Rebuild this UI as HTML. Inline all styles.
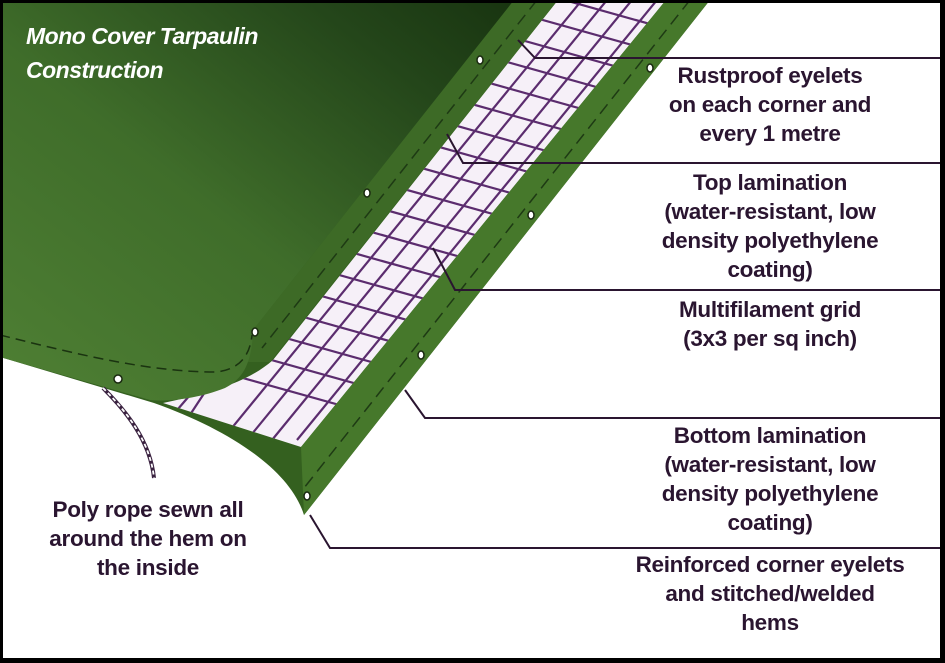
<!DOCTYPE html>
<html><head><meta charset="utf-8"><style>
html,body{margin:0;padding:0;background:#000;}
#c{position:relative;width:945px;height:663px;overflow:hidden;background:#000;}
#in{position:absolute;left:3px;top:3px;width:937px;height:655px;background:#fff;overflow:hidden;}
svg{position:absolute;left:-3px;top:-3px;}
.t{position:absolute;font-family:"Liberation Sans",sans-serif;font-weight:bold;color:#2a1530;font-size:22.5px;line-height:29px;text-align:center;letter-spacing:-0.3px;}
.h{position:absolute;font-family:"Liberation Sans",sans-serif;font-weight:bold;font-style:italic;color:#fff;font-size:23px;line-height:34px;left:26px;top:22px;letter-spacing:-0.5px;}
</style></head><body><div id="c"><div id="in">
<svg width="945" height="663" viewBox="0 0 945 663">
<defs>
<linearGradient id="tg" x1="0" y1="1" x2="1" y2="0">
<stop offset="0" stop-color="#4f8034"/><stop offset="0.45" stop-color="#3f6d2a"/><stop offset="0.8" stop-color="#24461a"/><stop offset="1" stop-color="#183410"/>
</linearGradient>
<clipPath id="gc"><path d="M558,0 L666,0 L301,447 L163,403 C200,395 245,385 273,360 Z"/></clipPath>
</defs>
<path d="M0,0 L710,0 L304,515 C290,470 230,430 154,403 L0,357 Z" fill="#34601f"/>
<path d="M558,0 L666,0 L301,447 L163,403 C200,395 245,385 273,360 Z" fill="#f6f0f8"/>
<g clip-path="url(#gc)" stroke="#5b2c6e" stroke-width="2.2">
<line x1="582" y1="0" x2="222" y2="440"/><line x1="607" y1="0" x2="247" y2="440"/><line x1="632" y1="0" x2="272" y2="440"/><line x1="657" y1="0" x2="297" y2="440"/>
<line x1="100" y1="-130" x2="750" y2="52"/><line x1="100" y1="-104" x2="750" y2="78"/><line x1="100" y1="-78" x2="750" y2="104"/><line x1="100" y1="-52" x2="750" y2="130"/><line x1="100" y1="-26" x2="750" y2="156"/><line x1="100" y1="0" x2="750" y2="182"/><line x1="100" y1="26" x2="750" y2="208"/><line x1="100" y1="52" x2="750" y2="234"/><line x1="100" y1="78" x2="750" y2="260"/><line x1="100" y1="104" x2="750" y2="286"/><line x1="100" y1="130" x2="750" y2="312"/><line x1="100" y1="156" x2="750" y2="338"/><line x1="100" y1="182" x2="750" y2="364"/><line x1="100" y1="208" x2="750" y2="390"/><line x1="100" y1="234" x2="750" y2="416"/><line x1="100" y1="260" x2="750" y2="442"/><line x1="100" y1="286" x2="750" y2="468"/><line x1="100" y1="312" x2="750" y2="494"/><line x1="100" y1="338" x2="750" y2="520"/>
<line x1="190" y1="395" x2="160" y2="430"/><line x1="205" y1="392" x2="180" y2="430"/>
</g>
<path d="M666,0 L710,0 L304,515 L301,447 Z" fill="#46782b"/>
<line x1="690" y1="0" x2="304" y2="488" stroke="#1e3a14" stroke-width="1.5" stroke-dasharray="12,7"/>
<path d="M514,0 L558,0 L270,362 L248,362 L253,330 Z" fill="#3d6a26"/>
<line x1="537" y1="0" x2="262" y2="348" stroke="#1e3a14" stroke-width="1.5" stroke-dasharray="12,7"/>
<path d="M0,0 L514,0 L253,330 C252,360 245,378 225,388 C200,398 170,402 150,400 L0,357 Z" fill="url(#tg)"/>
<path d="M0,335 C80,355 150,372 215,372 C240,370 250,355 252,335" fill="none" stroke="#1a3310" stroke-width="1.5" stroke-dasharray="10,6"/>
<g fill="#fff" stroke="#1a2a10" stroke-width="1.5">
<ellipse cx="480" cy="60" rx="3" ry="4"/><ellipse cx="367" cy="193" rx="3" ry="4"/><ellipse cx="255" cy="332" rx="3" ry="4"/><ellipse cx="531" cy="215" rx="3" ry="4"/><ellipse cx="421" cy="355" rx="3" ry="4"/><ellipse cx="650" cy="68" rx="3" ry="4"/><ellipse cx="118" cy="379" rx="4" ry="4"/><ellipse cx="307" cy="496" rx="3" ry="4"/>
</g>
<path d="M103,388 C125,410 150,440 154,478" fill="none" stroke="#3a2240" stroke-width="4"/>
<path d="M103,388 C125,410 150,440 154,478" fill="none" stroke="#fff" stroke-width="1.8" stroke-dasharray="4,3"/>
<g fill="none" stroke="#2a1530" stroke-width="2">
<polyline points="518,40 535,58 940,58"/>
<polyline points="447,134 463,163 940,163"/>
<polyline points="433,248 455,290 940,290"/>
<polyline points="405,390 425,418 940,418"/>
<polyline points="310,515 330,548 940,548"/>
</g>
</svg>
<div class="h" style="left:23px;top:16px">Mono Cover Tarpaulin<br>Construction</div>
<div class="t" style="left:597px;top:58px;width:340px">Rustproof eyelets<br>on each corner and<br>every 1 metre</div>
<div class="t" style="left:597px;top:165px;width:340px">Top lamination<br>(water-resistant, low<br>density polyethylene<br>coating)</div>
<div class="t" style="left:597px;top:292px;width:340px">Multifilament grid<br>(3x3 per sq inch)</div>
<div class="t" style="left:597px;top:418px;width:340px">Bottom lamination<br>(water-resistant, low<br>density polyethylene<br>coating)</div>
<div class="t" style="left:597px;top:547px;width:340px">Reinforced corner eyelets<br>and stitched/welded<br>hems</div>
<div class="t" style="left:0px;top:492px;width:290px">Poly rope sewn all<br>around the hem on<br>the inside</div>
</div></div></body></html>
